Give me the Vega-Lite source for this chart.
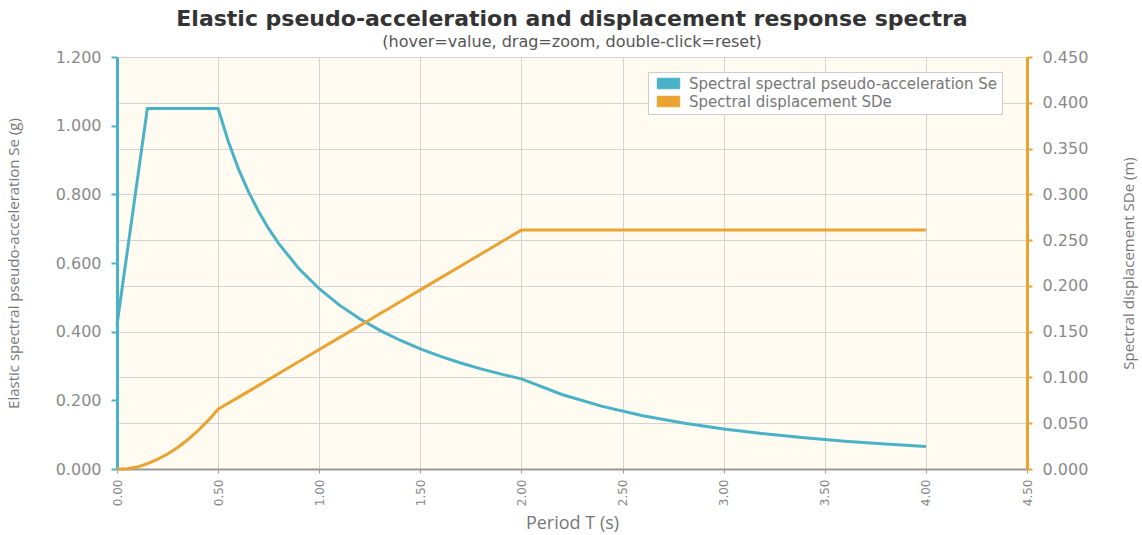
{
  "$schema": "https://vega.github.io/schema/vega-lite/v6.json",
  "autosize": {"type": "none"},
  "padding": {"left": 117, "top": 57, "right": 115, "bottom": 66},
  "width": 910,
  "height": 412,
  "background": "#ffffff",
  "config": {
    "view": {"fill": "#fffbf1", "stroke": null},
    "font": "DejaVu Sans"
  },
  "title": {
    "text": "Elastic pseudo-acceleration and displacement response spectra",
    "subtitle": "(hover=value, drag=zoom, double-click=reset)",
    "anchor": "middle",
    "frame": "group",
    "font": "DejaVu Sans",
    "fontSize": 22,
    "fontWeight": "bold",
    "color": "#333333",
    "subtitleFont": "DejaVu Sans",
    "subtitleFontSize": 16,
    "subtitleColor": "#555555",
    "subtitlePadding": 3,
    "offset": -2
  },
  "data": {
    "values": [
      {"T": 0.0, "Se": 0.42, "SDe": 0.0},
      {"T": 0.05, "Se": 0.63, "SDe": 0.000391},
      {"T": 0.1, "Se": 0.84, "SDe": 0.002087},
      {"T": 0.15, "Se": 1.05, "SDe": 0.005871},
      {"T": 0.2, "Se": 1.05, "SDe": 0.010437},
      {"T": 0.25, "Se": 1.05, "SDe": 0.016307},
      {"T": 0.3, "Se": 1.05, "SDe": 0.023482},
      {"T": 0.35, "Se": 1.05, "SDe": 0.031962},
      {"T": 0.4, "Se": 1.05, "SDe": 0.041746},
      {"T": 0.45, "Se": 1.05, "SDe": 0.052835},
      {"T": 0.5, "Se": 1.05, "SDe": 0.065229},
      {"T": 0.55, "Se": 0.95455, "SDe": 0.071751},
      {"T": 0.6, "Se": 0.875, "SDe": 0.078274},
      {"T": 0.65, "Se": 0.80769, "SDe": 0.084797},
      {"T": 0.7, "Se": 0.75, "SDe": 0.09132},
      {"T": 0.75, "Se": 0.7, "SDe": 0.097843},
      {"T": 0.8, "Se": 0.65625, "SDe": 0.104366},
      {"T": 0.9, "Se": 0.58333, "SDe": 0.117411},
      {"T": 1.0, "Se": 0.525, "SDe": 0.130457},
      {"T": 1.1, "Se": 0.47727, "SDe": 0.143503},
      {"T": 1.2, "Se": 0.4375, "SDe": 0.156548},
      {"T": 1.3, "Se": 0.40385, "SDe": 0.169594},
      {"T": 1.4, "Se": 0.375, "SDe": 0.18264},
      {"T": 1.5, "Se": 0.35, "SDe": 0.195686},
      {"T": 1.6, "Se": 0.328125, "SDe": 0.208731},
      {"T": 1.7, "Se": 0.30882, "SDe": 0.221777},
      {"T": 1.8, "Se": 0.29167, "SDe": 0.234823},
      {"T": 1.9, "Se": 0.27632, "SDe": 0.247868},
      {"T": 2.0, "Se": 0.2625, "SDe": 0.260914},
      {"T": 2.2, "Se": 0.21694, "SDe": 0.260914},
      {"T": 2.4, "Se": 0.18229, "SDe": 0.260914},
      {"T": 2.6, "Se": 0.15533, "SDe": 0.260914},
      {"T": 2.8, "Se": 0.13393, "SDe": 0.260914},
      {"T": 3.0, "Se": 0.11667, "SDe": 0.260914},
      {"T": 3.2, "Se": 0.10254, "SDe": 0.260914},
      {"T": 3.4, "Se": 0.09083, "SDe": 0.260914},
      {"T": 3.6, "Se": 0.08102, "SDe": 0.260914},
      {"T": 3.8, "Se": 0.07271, "SDe": 0.260914},
      {"T": 4.0, "Se": 0.065625, "SDe": 0.260914}
    ]
  },
  "encoding": {
    "x": {
      "field": "T",
      "type": "quantitative",
      "scale": {"domain": [0, 4.5], "nice": false, "zero": false},
      "axis": {
        "title": "Period T (s)",
        "values": [0, 0.5, 1, 1.5, 2, 2.5, 3, 3.5, 4, 4.5],
        "format": ".2f",
        "labelAngle": -90,
        "labelFont": "DejaVu Sans",
        "labelFontSize": 12,
        "labelColor": "#888888",
        "labelPadding": 6,
        "domainColor": "#999999",
        "domainWidth": 2,
        "tickColor": "#999999",
        "tickSize": 4,
        "grid": true,
        "gridColor": "#d3d3d3",
        "gridWidth": 1,
        "titleFont": "Open Sans",
        "titleFontSize": 18,
        "titleFontWeight": "normal",
        "titleColor": "#777777",
        "titleBaseline": "middle",
        "titleY": 54
      }
    }
  },
  "layer": [
    {
      "mark": {"type": "line", "strokeWidth": 3, "clip": false},
      "encoding": {
        "y": {
          "field": "Se",
          "type": "quantitative",
          "scale": {"domain": [0, 1.2], "nice": false},
          "axis": {
            "orient": "left",
            "title": "Elastic spectral pseudo-acceleration Se (g)",
            "values": [0, 0.2, 0.4, 0.6, 0.8, 1.0, 1.2],
            "format": ".3f",
            "grid": false,
            "domainColor": "#4ab2c6",
            "domainWidth": 3,
            "tickColor": "#4ab2c6",
            "tickWidth": 2,
            "tickSize": 6,
            "labelFont": "DejaVu Sans",
            "labelFontSize": 16,
            "labelColor": "#8a8a8a",
            "labelPadding": 10,
            "titleFont": "Open Sans",
            "titleFontSize": 15,
            "titleFontWeight": "normal",
            "titleColor": "#777777",
            "titleAngle": -90,
            "titleAlign": "center",
            "titleBaseline": "alphabetic",
            "titleX": -99,
            "titleY": 206
          }
        },
        "color": {
          "datum": "Spectral spectral pseudo-acceleration Se",
          "type": "nominal",
          "scale": {
            "domain": ["Spectral spectral pseudo-acceleration Se", "Spectral displacement SDe"],
            "range": ["#4ab2c6", "#eaa331"]
          },
          "legend": {
            "title": null,
            "orient": "none",
            "legendX": 531,
            "legendY": 15,
            "fillColor": "#ffffff",
            "strokeColor": "#cccccc",
            "padding": 4,
            "rowPadding": 2,
            "symbolType": "M-1.6,-0.75H1.6V0.75H-1.6Z",
            "symbolSize": 196,
            "symbolOffset": 9,
            "symbolStrokeWidth": 1,
            "symbolOpacity": 1,
            "labelFont": "DejaVu Sans",
            "labelFontSize": 15,
            "labelColor": "#777777",
            "labelLimit": 400,
            "labelOffset": 13,
            "encode": {
              "symbols": {
                "update": {
                  "fill": {"scale": "color", "field": "value"},
                  "stroke": {"value": "#bbbbbb"},
                  "strokeWidth": {"value": 1}
                }
              }
            }
          }
        }
      }
    },
    {
      "mark": {"type": "line", "strokeWidth": 3, "clip": false},
      "encoding": {
        "y": {
          "field": "SDe",
          "type": "quantitative",
          "scale": {"domain": [0, 0.45], "nice": false},
          "axis": {
            "orient": "right",
            "title": "Spectral displacement SDe (m)",
            "values": [0, 0.05, 0.1, 0.15, 0.2, 0.25, 0.3, 0.35, 0.4, 0.45],
            "format": ".3f",
            "grid": true,
            "gridColor": "#d3d3d3",
            "gridWidth": 1,
            "domainColor": "#eaa331",
            "domainWidth": 3,
            "tickColor": "#eaa331",
            "tickWidth": 2,
            "tickSize": 5,
            "labelFont": "DejaVu Sans",
            "labelFontSize": 16,
            "labelColor": "#8a8a8a",
            "labelPadding": 10,
            "titleFont": "Open Sans",
            "titleFontSize": 15,
            "titleFontWeight": "normal",
            "titleColor": "#777777",
            "titleAngle": -90,
            "titleAlign": "center",
            "titleBaseline": "middle",
            "titleX": 101,
            "titleY": 206
          }
        },
        "color": {"datum": "Spectral displacement SDe", "type": "nominal"}
      }
    }
  ],
  "resolve": {"scale": {"y": "independent"}}
}
